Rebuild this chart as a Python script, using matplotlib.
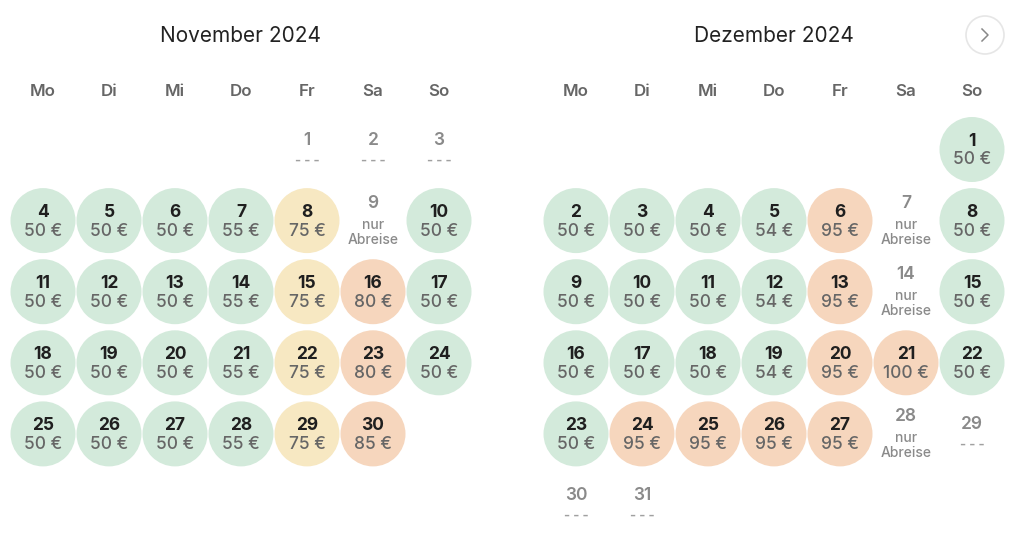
import matplotlib
matplotlib.use("Agg")
import matplotlib.pyplot as plt
from matplotlib.patches import Circle
import datetime

# ---------------- data ----------------
months = ["November 2024", "Dezember 2024"]
weekdays = ["Mo", "Di", "Mi", "Do", "Fr", "Sa", "So"]

nov_prices = [None, None, None, 50, 50, 50, 55, 75, None, 50,
              50, 50, 50, 55, 75, 80, 50,
              50, 50, 50, 55, 75, 80, 50,
              50, 50, 50, 55, 75, 85]
nov_abreise = [9]

dec_prices = [50, 50, 50, 50, 54, 95, None, 50,
              50, 50, 50, 54, 95, None, 50,
              50, 50, 50, 54, 95, 100, 50,
              50, 95, 95, 95, 95, None, None,
              None, None]
dec_abreise = [7, 14, 28]

month_starts = [datetime.date(2024, 11, 1), datetime.date(2024, 12, 1)]

# ---------------- style ----------------
FONT = ["Inter", "DejaVu Sans"]
plt.rcParams['font.family'] = FONT
C_GREEN = "#d3eadb"
C_YELLOW = "#f7e8c2"
C_ORANGE = "#f6d6bd"
C_DARK = "#1f1f1f"
C_PRICE = "#666666"
C_GRAY = "#8a8a8a"

def price_color(p):
    if p < 60:
        return C_GREEN
    if p < 80:
        return C_YELLOW
    return C_ORANGE

W, H = 1024, 533
fig = plt.figure(figsize=(W / 100, H / 100), dpi=100)
ax = fig.add_axes([0, 0, 1, 1])
ax.set_xlim(0, W)
ax.set_ylim(H, 0)
ax.set_aspect('equal')
ax.axis('off')

x0s = [43, 576]
dx = 66
row0 = 149.5
dy = 71.1
R = 32.5

panels = [(nov_prices, nov_abreise), (dec_prices, dec_abreise)]
for m, (prices, abreise) in enumerate(panels):
    x0 = x0s[m]
    ax.text(x0 + 3 * dx, 35.5, months[m], ha='center', va='center',
            fontsize=15, color="#222222", fontweight='normal')
    for i, wd in enumerate(weekdays):
        ax.text(x0 + i * dx, 92, wd, ha='center', va='center',
                fontsize=12.2, color="#666666", fontweight='semibold')
    start = month_starts[m]
    offset = start.weekday()
    for d, p in enumerate(prices, start=1):
        idx = offset + d - 1
        col, row = idx % 7, idx // 7
        cx = x0 + col * dx
        cy = row0 + row * dy
        if p is not None:
            ax.add_patch(Circle((cx, cy), R, facecolor=price_color(p),
                                edgecolor='none'))
            ax.text(cx, cy - 8, str(d), ha='center', va='center',
                    fontsize=12.5, fontweight='bold', color=C_DARK)
            ax.text(cx, cy + 10.5, f"{p} €", ha='center', va='center',
                    fontsize=12.5, fontweight='medium', color=C_PRICE)
        elif d in abreise:
            ax.text(cx, cy - 17, str(d), ha='center', va='center',
                    fontsize=12.5, fontweight='semibold', color=C_GRAY)
            ax.text(cx, cy + 4, "nur", ha='center', va='center',
                    fontsize=10, fontweight='medium', color=C_GRAY)
            ax.text(cx, cy + 19, "Abreise", ha='center', va='center',
                    fontsize=10, fontweight='medium', color=C_GRAY)
        else:
            ax.text(cx, cy - 9, str(d), ha='center', va='center',
                    fontsize=12.5, fontweight='semibold', color=C_GRAY)
            ax.text(cx, cy + 11, "- - -", ha='center', va='center',
                    fontsize=9.5, fontweight='bold', color="#a0a0a0")

# next-month button
ax.add_patch(Circle((985, 35), 19, facecolor='white', edgecolor='#e6e6e6',
                    linewidth=1.2))
ax.plot([982, 988, 982], [29, 35, 41], color='#888888', linewidth=1.1)

fig.savefig("out.png", dpi=100)
